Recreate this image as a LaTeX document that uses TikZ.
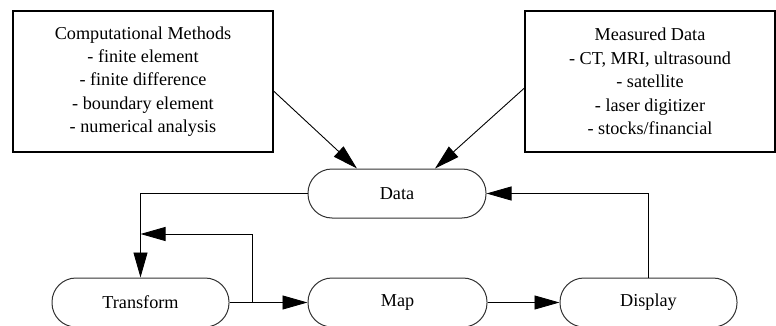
\documentclass[tikz,border=0pt]{standalone}
\usepackage{fontspec}
\setmainfont{Liberation Serif}
\usetikzlibrary{arrows.meta}
\begin{document}
\begin{tikzpicture}[x=1pt,y=-1pt,
  font=\fontsize{18.2}{23.4}\selectfont,
  infobox/.style={draw=black, line width=1.1pt, inner sep=0pt, align=center},
  pill/.style={draw=black!80, line width=1pt, rounded corners=24pt, minimum height=49pt, inner sep=0pt},
  arr/.style={draw=black, line width=0.9pt, -{Triangle[length=25pt,width=14pt]}}]
\useasboundingbox (0,0) rectangle (776,326);
\node[infobox, minimum width=260pt, minimum height=141pt] (comp) at (143,81.5)
  {Computational Methods\\- finite element\\- finite difference\\- boundary element\\- numerical analysis};
\node[infobox, minimum width=250pt, minimum height=141pt] (meas) at (650,81.5)
  {Measured Data\\- CT, MRI, ultrasound\\- satellite\\- laser digitizer\\- stocks/financial};
\node[pill, minimum width=178pt] (data) at (397,193.5) {Data};
\node[pill, minimum width=177pt] (trans) at (140.5,302.5) {Transform};
\node[pill, minimum width=179pt] (map) at (397.5,302.5) {Map};
\node[pill, minimum width=177pt] (disp) at (648.5,302.5) {Display};
\coordinate (br) at (252,302.5);
\coordinate (j) at (140.5,234);
\draw[arr] ([yshift=-9.5pt]comp.east) -- ([xshift=-40pt]data.north);
\draw[arr] ([yshift=-6.5pt]meas.west) -- ([xshift=38pt]data.north);
\draw[arr] (data.west) -| (trans.north);
\draw[arr] (trans.east) -- (map.west);
\draw[arr] (br) |- (j);
\draw[arr] (map.east) -- (disp.west);
\draw[arr] (disp.north) |- (data.east);
\end{tikzpicture}
\end{document}
